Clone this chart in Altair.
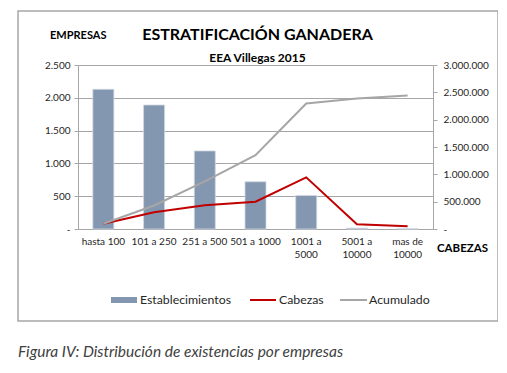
import altair as alt
import pandas as pd

categories = ["hasta 100", "101 a 250", "251 a 500", "501 a 1000",
              "1001 a 5000", "5001 a 10000", "mas de 10000"]
establecimientos = [2130, 1890, 1190, 720, 510, 12, 3]
cabezas = [97000, 305000, 433000, 500000, 945000, 86000, 50000]
acumulado = [97000, 430000, 870000, 1350000, 2295000, 2385000, 2440000]

left_ticks = [0, 500, 1000, 1500, 2000, 2500]
right_ticks = [0, 500000, 1000000, 1500000, 2000000, 2500000, 3000000]

df = pd.DataFrame({"cat": categories, "est": establecimientos,
                   "cab": cabezas, "acu": acumulado})
one = pd.DataFrame({"k": [0]})

FONT = "Lato"
GRID = "#A6A6A6"
BAR = "#8497B0"
RED = "#C00000"
GRAY = "#A6A6A6"
LBL = "#262626"

num_expr = ("datum.value == 0 ? '-' : "
            "replace(replace(format(datum.value, ','), ',', '.'), ',', '.')")
cat_expr = ("length(datum.label) > 10 ? "
            "[slice(datum.label, 0, lastindexof(datum.label, ' ')), "
            "slice(datum.label, lastindexof(datum.label, ' ') + 1)] : datum.label")

x_enc = alt.X("cat:N", sort=categories, title=None,
              scale=alt.Scale(paddingInner=0, paddingOuter=0),
              axis=alt.Axis(labelAngle=0, labelExpr=cat_expr, ticks=False,
                            domainColor=GRID, labelPadding=7, labelFontSize=10,
                            labelColor=LBL, labelLineHeight=13, labelFont=FONT,
                            labelOverlap=False))

bars = alt.Chart(df).mark_bar(size=21, color=BAR, stroke="#D0D7E2", strokeWidth=0.8).encode(
    x=x_enc,
    y=alt.Y("est:Q", title=None,
            scale=alt.Scale(domain=[0, 2500], nice=False),
            axis=alt.Axis(orient="left", values=left_ticks, grid=True,
                          gridColor=GRID, domainColor=GRID, tickColor=GRID,
                          tickSize=4, labelPadding=4, labelFontSize=10,
                          labelColor=LBL, labelFont=FONT, labelExpr=num_expr,
                          labelOverlap=False))
)

right_axis = alt.Axis(orient="right", values=right_ticks, grid=False,
                      domainColor=GRID, tickColor=GRID, tickSize=4,
                      labelPadding=6, labelFontSize=10, labelColor=LBL,
                      labelFont=FONT, labelExpr=num_expr, labelOverlap=False)
right_scale = alt.Scale(domain=[0, 3000000], nice=False)

red = alt.Chart(df).mark_line(color=RED, strokeWidth=2).encode(
    x=alt.X("cat:N", sort=categories),
    y=alt.Y("cab:Q", title=None, scale=right_scale, axis=right_axis))
gray = alt.Chart(df).mark_line(color=GRAY, strokeWidth=2).encode(
    x=alt.X("cat:N", sort=categories),
    y=alt.Y("acu:Q", title=None, scale=right_scale, axis=right_axis))
lines = alt.layer(red, gray)


def txt(text, x, y, size, bold=False, italic=False, color="#000000", align="left"):
    return alt.Chart(one).mark_text(
        text=text, fontSize=size, fontWeight="bold" if bold else "normal",
        fontStyle="italic" if italic else "normal", font=FONT, align=align,
        baseline="alphabetic", color=color
    ).encode(x=alt.value(x), y=alt.value(y))


frame = alt.Chart(one).mark_rect(fill="transparent", stroke=GRID, strokeWidth=1.5).encode(
    x=alt.value(-60), x2=alt.value(420), y=alt.value(-54), y2=alt.value(256))

leg_bar = alt.Chart(one).mark_rect(color=BAR).encode(
    x=alt.value(33), x2=alt.value(59), y=alt.value(232), y2=alt.value(238))
leg_red = alt.Chart(one).mark_rule(color=RED, strokeWidth=2).encode(
    x=alt.value(172), x2=alt.value(198), y=alt.value(235))
leg_gray = alt.Chart(one).mark_rule(color=GRAY, strokeWidth=2).encode(
    x=alt.value(262), x2=alt.value(289), y=alt.value(235))

chart = alt.layer(
    frame, bars, lines,
    txt("ESTRATIFICACIÓN GANADERA", 179.5, -25.5, 16, bold=True, align="center"),
    txt("EEA Villegas 2015", 179.5, -3, 12, bold=True, align="center"),
    txt("EMPRESAS", -28, -26, 11, bold=True),
    txt("CABEZAS", 359, 187, 11.5, bold=True),
    leg_bar, leg_red, leg_gray,
    txt("Establecimientos", 62, 239, 12.3, color=LBL),
    txt("Cabezas", 201, 239, 12.3, color=LBL),
    txt("Acumulado", 291, 239, 12.3, color=LBL),
    txt("Figura IV: Distribución de existencias por empresas", -60, 292, 15.5,
        italic=True, color="#404040"),
).resolve_scale(y="independent").properties(
    width=355, height=164,
    autosize=alt.AutoSizeParams(type="none"),
    padding={"left": 70, "top": 57, "right": 65, "bottom": 135},
    background="white",
).configure_view(stroke=None)

chart.save("out.html", embed_options={"renderer": "svg", "actions": False})
